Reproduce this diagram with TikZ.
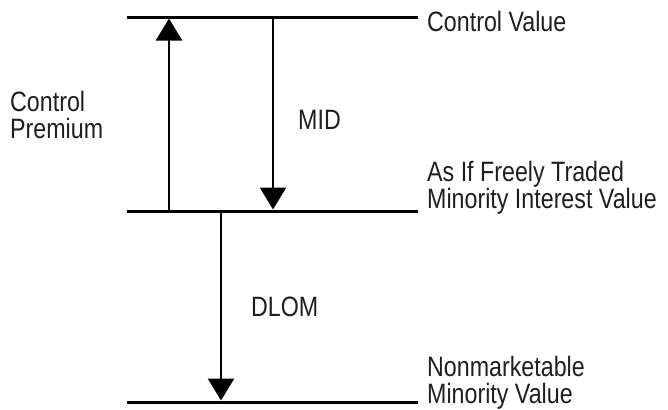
\documentclass[tikz,border=0pt]{standalone}
\usepackage{fontspec}
\setmainfont{Liberation Sans}[FakeStretch=0.83]
\usetikzlibrary{arrows.meta}
\tikzset{
  level/.style={line width=3bp},
  jump/.style={line width=2.5bp, -{Triangle[width=26bp,length=22bp]}},
  lbl/.style={anchor=base west, inner sep=0pt, align=left,
              font=\fontsize{28bp}{27bp}\selectfont, text=black!88}
}
\begin{document}
\begin{tikzpicture}[x=1bp,y=-1bp]
  \useasboundingbox (0,0) rectangle (668,409);
  % value levels
  \coordinate (topL) at (127,17);   \coordinate (topR) at (418,17);
  \coordinate (midL) at (127,211);  \coordinate (midR) at (418,211);
  \coordinate (botL) at (127,402);  \coordinate (botR) at (418,402);
  \draw[level] (topL) -- (topR);
  \draw[level] (midL) -- (midR);
  \draw[level] (botL) -- (botR);
  % arrow end points on the levels
  \coordinate (cpFrom) at (169,211); \coordinate (cpTo) at (169,18.5);
  \coordinate (midFrom) at (273,17); \coordinate (midTo) at (273,209.5);
  \coordinate (dlFrom) at (221,211); \coordinate (dlTo) at (221,400.5);
  \draw[jump] (cpFrom) -- (cpTo);
  \draw[jump] (midFrom) -- (midTo);
  \draw[jump] (dlFrom) -- (dlTo);
  % labels (multi-line labels sit on the baseline of their last line)
  \node[lbl] (cv) at (427,31) {Control Value};
  \node[lbl] (fm) at (427,208) {As If Freely Traded\\Minority Interest Value};
  \node[lbl] (nm) at (427,403) {Nonmarketable\\Minority Value};
  \node[lbl] (cp) at (10,138) {Control\\Premium};
  \node[lbl] (mid) at (298,129) {MID};
  \node[lbl] (dlom) at (251,316) {DLOM};
\end{tikzpicture}
\end{document}
